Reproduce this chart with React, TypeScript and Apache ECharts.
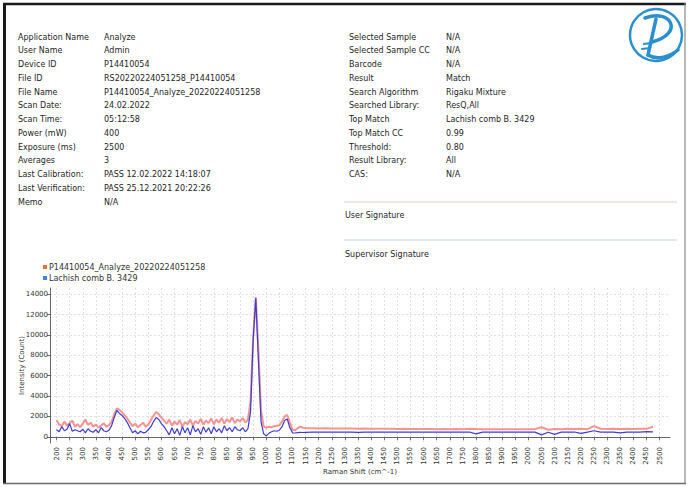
import React, { useEffect, useRef } from "react";
import * as echarts from "echarts";

const ramanShift = [
  200, 210, 220, 230, 240, 250, 260, 270, 280, 290,
  300, 310, 320, 330, 340, 350, 360, 370, 380, 390,
  400, 410, 420, 430, 440, 450, 460, 470, 480, 490,
  500, 510, 520, 530, 540, 550, 560, 570, 580, 590,
  600, 610, 620, 630, 640, 650, 660, 670, 680, 690,
  700, 710, 720, 730, 740, 750, 760, 770, 780, 790,
  800, 810, 820, 830, 840, 850, 860, 870, 880, 890,
  900, 910, 920, 930, 940, 950, 960, 970, 980, 990,
  1000, 1010, 1020, 1030, 1040, 1050, 1060, 1070, 1080, 1090,
  1100, 1110, 1120, 1130, 1140, 1150,
  1175, 1200, 1225, 1250, 1275, 1300, 1325, 1350, 1375, 1400,
  1425, 1450, 1475, 1500, 1525, 1550, 1575, 1600, 1625, 1650,
  1675, 1700, 1725, 1750, 1775, 1800, 1825, 1850, 1875, 1900,
  1925, 1950, 1975, 2000, 2025, 2050, 2075, 2100, 2125, 2150,
  2175, 2200, 2225, 2250, 2275, 2300, 2325, 2350, 2375, 2400,
  2425, 2450, 2475,
];

const sampleIntensity = [
  1650, 1200, 1050, 1500, 1100, 1350, 1600, 1000, 1250, 950,
  1300, 1700, 1150, 1400, 1000, 1200, 900, 1100, 1350, 1000,
  1150, 1500, 2200, 2800, 2650, 2400, 2100, 1800, 1400, 1050,
  1300, 950, 1150, 1400, 1000, 1200, 1650, 2100, 2450, 2200,
  1900, 1600, 1300, 1700, 1100, 1500, 1200, 1650, 1000, 1450,
  1250, 1700, 1100, 1550, 1300, 1750, 1200, 1600, 1350, 1800,
  1250, 1700, 1400, 1850, 1300, 1750, 1450, 1900, 1350, 1700,
  1500, 1850, 1400, 1700, 3500, 9800, 13700, 8500, 2600, 1000,
  900, 1000, 950, 1050, 1100, 1150, 1500, 2000, 2150, 1400,
  700, 650, 850, 1000, 900, 850,
  840, 830, 840, 820, 830, 810, 820, 800, 810, 800,
  790, 800, 790, 780, 790, 780, 770, 780, 770, 760,
  770, 760, 770, 760, 800, 770, 760, 750, 760, 750,
  760, 750, 740, 750, 760, 950, 700, 780, 760, 800,
  770, 790, 760, 1050, 800, 780, 800, 770, 790, 780,
  800, 790, 1000,
];

const libraryIntensity = [
  700, 500, 1000, 600, 750, 1300, 550, 700, 600, 500,
  750, 400, 800, 550, 450, 700, 400, 900, 600, 500,
  650, 1100, 1900, 2600, 2300, 2100, 1800, 1400, 900, 400,
  600, 300, 550, 400, 450, 700, 1000, 1500, 1900, 1700,
  1300, 1000, 600, 200, 900, 300, 800, 150, 1000, 400,
  900, 200, 1100, 500, 800, 250, 1000, 450, 900, 300,
  1000, 500, 800, 400, 1100, 600, 900, 500, 1000, 700,
  600, 900, 500, 800, 2500, 9500, 13600, 7500, 1500, 300,
  100, 350, 500, 600, 550, 650, 1000, 1600, 1750, 900,
  400, 380, 420, 450, 430, 450,
  460, 470, 460, 470, 460, 470, 460, 450, 470, 460,
  470, 460, 470, 460, 470, 460, 470, 460, 470, 460,
  470, 460, 470, 460, 480, 300, 470, 460, 470, 460,
  470, 460, 470, 460, 470, 200, 450, 250, 470, 460,
  480, 350, 470, 600, 460, 480, 470, 400, 470, 480,
  470, 520, 500,
];

const xTickValues = [
  200, 250, 300, 350, 400, 450, 500, 550, 600, 650, 700, 750, 800, 850, 900, 950,
  1000, 1050, 1100, 1150, 1200, 1250, 1300, 1350, 1400, 1450, 1500, 1550, 1600,
  1650, 1700, 1750, 1800, 1850, 1900, 1950, 2000, 2050, 2100, 2150, 2200, 2250,
  2300, 2350, 2400, 2450, 2500,
];
const yTickValues = [0, 2000, 4000, 6000, 8000, 10000, 12000, 14000];

const seriesNames = ["P14410054_Analyze_20220224051258", "Lachish comb B. 3429"];

const leftLabels = [
  "Application Name", "User Name", "Device ID", "File ID", "File Name", "Scan Date:",
  "Scan Time:", "Power (mW)", "Exposure (ms)", "Averages", "Last Calibration:",
  "Last Verification:", "Memo",
];
const leftValues = [
  "Analyze", "Admin", "P14410054", "RS20220224051258_P14410054",
  "P14410054_Analyze_20220224051258", "24.02.2022", "05:12:58", "400", "2500", "3",
  "PASS 12.02.2022 14:18:07", "PASS 25.12.2021 20:22:26", "N/A",
];
const rightLabels = [
  "Selected Sample", "Selected Sample CC", "Barcode", "Result", "Search Algorithm",
  "Searched Library:", "Top Match", "Top Match CC", "Threshold:", "Result Library:", "CAS:",
];
const rightValues = [
  "N/A", "N/A", "N/A", "Match", "Rigaku Mixture", "ResQ,All", "Lachish comb B. 3429",
  "0.99", "0.80", "All", "N/A",
];

const FONT = '"DejaVu Sans", sans-serif';

export default function App() {
  const ref = useRef<HTMLDivElement>(null);
  useEffect(() => {
    if (!ref.current) return;
    const chart = echarts.init(ref.current, null, { renderer: "svg" });
    const sample = ramanShift.map((x, i) => [x, sampleIntensity[i]]);
    const library = ramanShift.map((x, i) => [x, libraryIntensity[i]]);

    const txt = (text: string, x: number, y: number) => ({
      type: "text",
      x,
      y,
      silent: true,
      style: {
        text,
        fill: "#262626",
        fontSize: 8,
        fontFamily: FONT,
        verticalAlign: "middle",
        align: "left",
      },
    });
    const texts: any[] = [];
    leftLabels.forEach((t, i) => texts.push(txt(t, 18, 37 + i * 13.75)));
    leftValues.forEach((t, i) => texts.push(txt(t, 104, 37 + i * 13.75)));
    rightLabels.forEach((t, i) => texts.push(txt(t, 349, 37 + i * 13.75)));
    rightValues.forEach((t, i) => texts.push(txt(t, 446, 37 + i * 13.75)));
    texts.push(txt("User Signature", 345, 215));
    texts.push(txt("Supervisor Signature", 345, 254));

    const blue = "#2a8fd0";
    const graphics: any[] = [
      ...texts,
      { type: "line", silent: true, shape: { x1: 344, y1: 202, x2: 677, y2: 202 }, style: { stroke: "#e3c9c9", lineWidth: 1 } },
      { type: "line", silent: true, shape: { x1: 344, y1: 240, x2: 677, y2: 240 }, style: { stroke: "#bfd1e3", lineWidth: 1 } },
      // frame
      { type: "line", silent: true, shape: { x1: 3, y1: 4, x2: 686, y2: 4 }, style: { stroke: "#1a1a1a", lineWidth: 2.5 } },
      { type: "line", silent: true, shape: { x1: 4.5, y1: 3, x2: 4.5, y2: 484 }, style: { stroke: "#1a1a1a", lineWidth: 3 } },
      { type: "line", silent: true, shape: { x1: 685, y1: 3, x2: 685, y2: 484 }, style: { stroke: "#8a8a8a", lineWidth: 1.2 } },
      { type: "line", silent: true, shape: { x1: 3, y1: 483.5, x2: 686, y2: 483.5 }, style: { stroke: "#6a6a6a", lineWidth: 1.5 } },
      // logo
      { type: "circle", silent: true, shape: { cx: 656, cy: 35, r: 26 }, style: { fill: "none", stroke: blue, lineWidth: 2.5 } },
      { type: "bezierCurve", silent: true, shape: { x1: 645, y1: 18, cpx1: 672, cpy1: 8, x2: 652, y2: 42, cpx2: 684, cpy2: 34 }, style: { fill: "none", stroke: blue, lineWidth: 3.5, lineCap: "round" } },
      { type: "line", silent: true, shape: { x1: 656, y1: 19, x2: 648, y2: 55 }, style: { stroke: blue, lineWidth: 3.5, lineCap: "round" } },
      { type: "bezierCurve", silent: true, shape: { x1: 648, y1: 55, cpx1: 656, cpy1: 60, x2: 678, y2: 50, cpx2: 668, cpy2: 58 }, style: { fill: "none", stroke: blue, lineWidth: 3.5, lineCap: "round" } },
      { type: "line", silent: true, shape: { x1: 644, y1: 44, x2: 651, y2: 43 }, style: { stroke: blue, lineWidth: 2, lineCap: "round" } },
      { type: "line", silent: true, shape: { x1: 642, y1: 49, x2: 650, y2: 48 }, style: { stroke: blue, lineWidth: 2, lineCap: "round" } },
    ];

    chart.setOption({
      animation: false,
      textStyle: { fontFamily: FONT },
      legend: {
        orient: "vertical",
        left: 43,
        top: 263,
        itemWidth: 4,
        itemHeight: 4,
        itemGap: 3,
        icon: "rect",
        padding: 0,
        textStyle: { fontSize: 8, color: "#333", fontFamily: FONT, padding: [0, 0, 0, -3] },
        data: [
          { name: seriesNames[0], icon: "rect", itemStyle: { color: "#f06a3c" } },
          { name: seriesNames[1], icon: "rect", itemStyle: { color: "#3a86e0" } },
        ],
      },
      grid: { left: 50, right: 18, top: 288, bottom: 44, containLabel: false },
      xAxis: {
        type: "value",
        min: 175,
        max: 2540,
        name: "Raman Shift (cm^-1)",
        nameLocation: "middle",
        nameGap: 25,
        nameMoveOverlap: false,
        nameTextStyle: { fontSize: 7, color: "#333", fontFamily: FONT },
        axisLine: { show: true, lineStyle: { color: "#666", width: 1 } },
        axisTick: { show: true, length: 3, customValues: xTickValues, lineStyle: { color: "#666" } },
        axisLabel: {
          rotate: 90, fontSize: 7, color: "#333", margin: 4, customValues: xTickValues, fontFamily: FONT,
          formatter: (v: number) => String(v),
        },
        splitLine: { show: true, lineStyle: { color: "#d8d8d8", type: [2, 2], width: 0.8 } },
      },
      yAxis: {
        type: "value",
        min: -600,
        max: 14600,
        name: "Intensity (Count)",
        nameLocation: "middle",
        nameGap: 25,
        nameMoveOverlap: false,
        nameTextStyle: { fontSize: 7, color: "#333", fontFamily: FONT },
        axisLine: { show: true, lineStyle: { color: "#666", width: 1 } },
        axisTick: { show: true, length: 3, customValues: yTickValues, lineStyle: { color: "#666" } },
        axisLabel: {
          fontSize: 7, color: "#333", margin: 2, customValues: yTickValues, fontFamily: FONT,
          formatter: (v: number) => String(v),
        },
        splitLine: { show: true, lineStyle: { color: "#d8d8d8", type: [2, 2], width: 0.8 } },
      },
      series: [
        {
          name: seriesNames[0],
          type: "line",
          data: sample,
          showSymbol: false,
          color: "#f06a3c",
          lineStyle: { color: "#f58080", width: 2, opacity: 0.85 },
          z: 2,
        },
        {
          name: seriesNames[1],
          type: "line",
          data: library,
          showSymbol: false,
          color: "#3a86e0",
          lineStyle: { color: "#3c3cd0", width: 1.2 },
          z: 3,
        },
      ],
      graphic: graphics,
    });
    return () => chart.dispose();
  }, []);
  return (
    <div
      ref={ref}
      style={{ position: "fixed", left: 0, top: 0, width: 688, height: 487, background: "#fff" }}
    />
  );
}
